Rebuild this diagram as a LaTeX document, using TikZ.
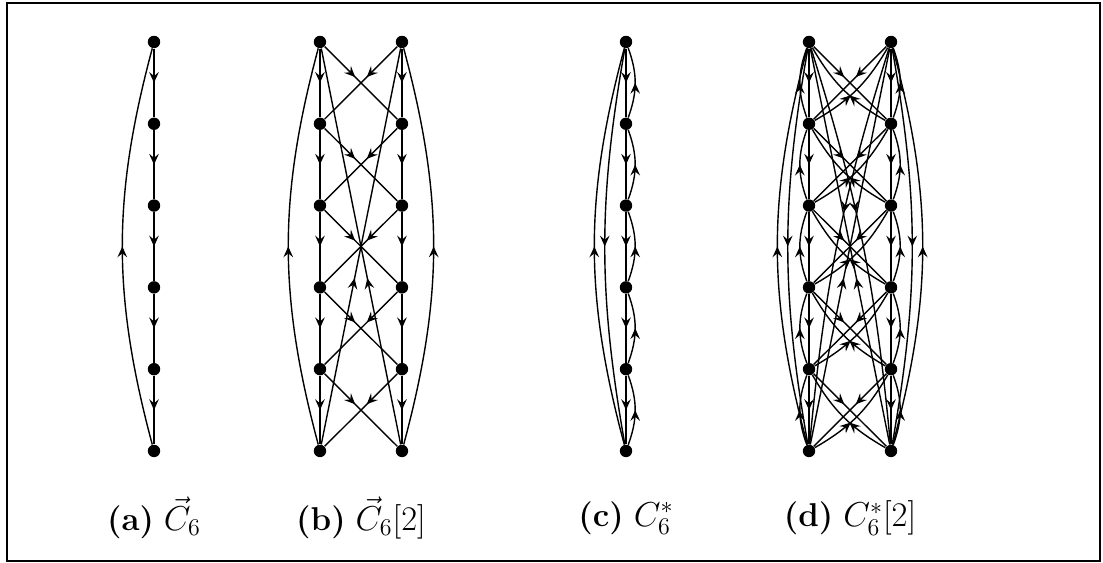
\documentclass[tikz,border=0pt]{standalone}
\usepackage{amsmath}
\usetikzlibrary{arrows.meta,decorations.markings}
\tikzset{
  vtx/.style={circle, fill=black, inner sep=0pt, minimum size=6.2pt},
  edg/.style={line width=0.7pt, postaction={decorate},
    decoration={markings, mark=at position #1 with {\arrow{Stealth[length=5.4pt,width=4.8pt,inset=2pt]}}}},
  edg/.default=0.5,
  lbl/.style={font=\fontsize{16.5}{19}\selectfont, anchor=center}
}

\begin{document}
\begin{tikzpicture}[x=41pt,y=40.9pt]
\useasboundingbox (0,-1.369) rectangle (13.451,5.513);
\draw[line width=0.7pt] (0.085,-1.345) rectangle (13.415,5.477);

% vertices, layer 0 on top
\foreach \i in {0,...,5} {
  \node[vtx] (a\i) at (1.878,5-\i) {};
  \node[vtx] (bl\i) at (3.902,5-\i) {};
  \node[vtx] (br\i) at (4.902,5-\i) {};
  \node[vtx] (c\i) at (7.634,5-\i) {};
  \node[vtx] (dl\i) at (9.866,5-\i) {};
  \node[vtx] (dr\i) at (10.866,5-\i) {};
}

% (a)
\foreach \i [count=\j from 1] in {0,...,4}
  \draw[edg] (a\i) -- (a\j);
\draw[edg] (a5) to[bend left=15] (a0);

% (b)
\foreach \i [count=\j from 1] in {0,...,4} {
  \draw[edg] (bl\i) -- (bl\j);
  \draw[edg] (br\i) -- (br\j);
  \draw[edg=0.42] (bl\i) -- (br\j);
  \draw[edg=0.42] (br\i) -- (bl\j);
}
\draw[edg] (bl5) to[bend left=15] (bl0);
\draw[edg] (br5) to[bend right=15] (br0);
\draw[edg=0.42] (bl5) -- (br0);
\draw[edg=0.42] (br5) -- (bl0);

% (c)
\foreach \i [count=\j from 1] in {0,...,4} {
  \draw[edg] (c\i) -- (c\j);
  \draw[edg] (c\j) to[bend right=20] (c\i);
}
\draw[edg] (c5) to[bend left=15] (c0);
\draw[edg] (c0) to[bend right=10] (c5);

% (d)
\foreach \i [count=\j from 1] in {0,...,4} {
  \draw[edg] (dl\i) -- (dl\j);
  \draw[edg] (dr\i) -- (dr\j);
  \draw[edg=0.42] (dl\i) -- (dr\j);
  \draw[edg=0.42] (dr\i) -- (dl\j);
  \draw[edg] (dl\j) to[bend left=20] (dl\i);
  \draw[edg] (dr\j) to[bend right=20] (dr\i);
  \draw[edg=0.42] (dl\j) to[bend right=15] (dr\i);
  \draw[edg=0.42] (dr\j) to[bend left=15] (dl\i);
}
\draw[edg] (dl5) to[bend left=15] (dl0);
\draw[edg] (dr5) to[bend right=15] (dr0);
\draw[edg] (dl0) to[bend right=10] (dl5);
\draw[edg] (dr0) to[bend left=10] (dr5);
\draw[edg=0.42] (dl5) -- (dr0);
\draw[edg=0.42] (dr5) -- (dl0);
\draw[edg=0.42] (dl0) to[bend left=6] (dr5);
\draw[edg=0.42] (dr0) to[bend right=6] (dl5);

% captions
\node[lbl] (capa) at (1.878,-0.82) {\textbf{(a)} $\vec{C}_6$};
\node[lbl] (capb) at (4.402,-0.82) {\textbf{(b)} $\vec{C}_6[2]$};
\node[lbl] (capc) at (7.634,-0.82) {\textbf{(c)} $C_6^*$};
\node[lbl] (capd) at (10.366,-0.82) {\textbf{(d)} $C_6^*[2]$};
\end{tikzpicture}
\end{document}
